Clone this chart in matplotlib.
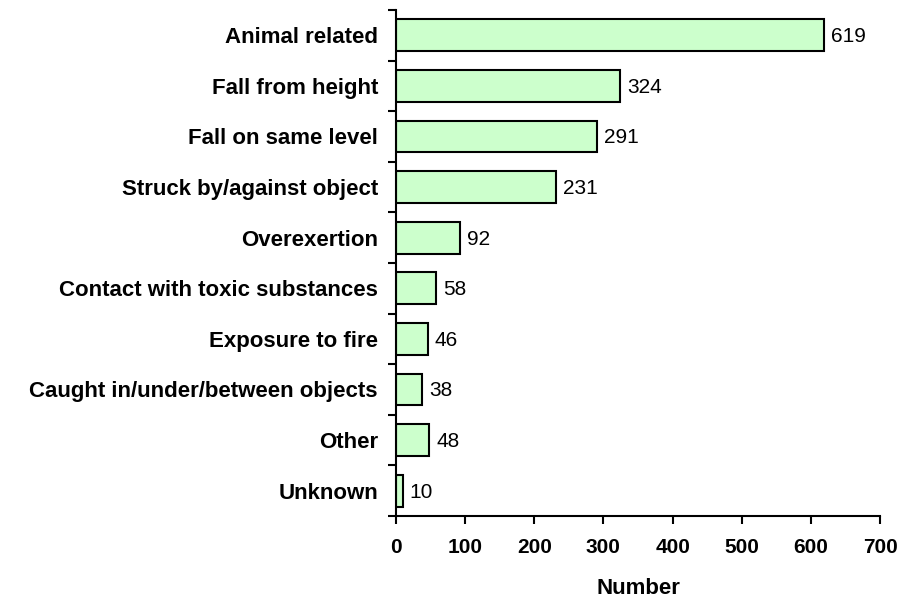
import matplotlib
matplotlib.use("Agg")
import matplotlib.pyplot as plt
import numpy as np

categories = [
    "Animal related",
    "Fall from height",
    "Fall on same level",
    "Struck by/against object",
    "Overexertion",
    "Contact with toxic substances",
    "Exposure to fire",
    "Caught in/under/between objects",
    "Other",
    "Unknown",
]
counts = [619, 324, 291, 231, 92, 58, 46, 38, 48, 10]
x_ticks = [0, 100, 200, 300, 400, 500, 600, 700]

plt.rcParams["font.family"] = ["Liberation Sans", "DejaVu Sans"]

fig = plt.figure(figsize=(9.02, 5.98), dpi=100)
ax = fig.add_axes([396 / 902, 82 / 598, 484 / 902, 506 / 598])

y = np.arange(len(categories))
ax.barh(y, counts, height=0.63, color="#CCFFCC", edgecolor="black", linewidth=1.5)

for yi, v in zip(y, counts):
    ax.annotate(f"{v}", xy=(v, yi), xytext=(5, -1), textcoords="offset points",
                va="center", ha="left", fontsize=15)

ax.set_ylim(len(categories) - 0.5, -0.5)
ax.set_xlim(0, 700)
ax.set_xticks(x_ticks)
ax.set_xticklabels([str(t) for t in x_ticks], fontsize=15, fontweight="bold")

ax.set_yticks(y)
ax.set_yticklabels(categories, fontsize=16, fontweight="bold")
ax.tick_params(axis="y", which="major", length=0, pad=13)
ax.set_yticks(np.arange(-0.5, len(categories)), minor=True)
ax.tick_params(axis="y", which="minor", length=6, width=1.5, direction="out")
ax.tick_params(axis="x", which="major", length=6, width=1.5, direction="out", pad=10)

for side in ("top", "right"):
    ax.spines[side].set_visible(False)
for side in ("left", "bottom"):
    ax.spines[side].set_linewidth(1.5)

ax.set_xlabel("Number", fontsize=16, fontweight="bold", labelpad=15)

fig.savefig("out.png", dpi=100)
